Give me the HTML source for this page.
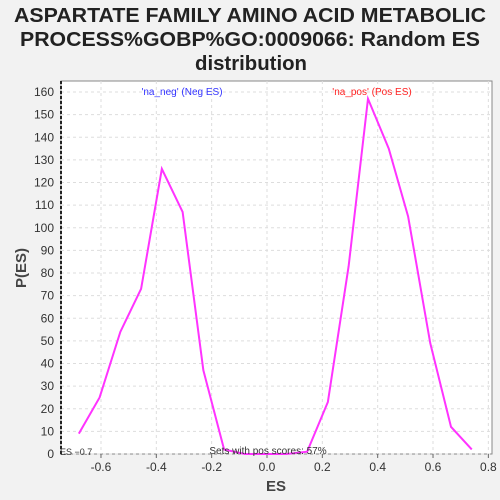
<!DOCTYPE html>
<html><head><meta charset="utf-8"><style>
body{margin:0;background:#f2f2f2;font-family:"Liberation Sans","DejaVu Sans",sans-serif;}
svg{display:block}
</style></head><body>
<svg id="c" width="500" height="500">
<rect x="0" y="0" width="500" height="500" fill="#f2f2f2"/>
<text x="250" y="22" text-anchor="middle" font-size="20" font-weight="bold" fill="#222" textLength="472" lengthAdjust="spacingAndGlyphs">ASPARTATE FAMILY AMINO ACID METABOLIC</text>
<text x="250" y="46" text-anchor="middle" font-size="20" font-weight="bold" fill="#222" textLength="460" lengthAdjust="spacingAndGlyphs">PROCESS%GOBP%GO:0009066: Random ES</text>
<text x="251" y="70" text-anchor="middle" font-size="20" font-weight="bold" fill="#222" textLength="112" lengthAdjust="spacingAndGlyphs">distribution</text>
<rect x="61" y="81" width="431" height="373" fill="#fff" stroke="#888"/>
<g id="grid"></g>
<g id="axes"></g>
<line x1="61" y1="81" x2="61" y2="454" stroke="#222" stroke-width="2" stroke-dasharray="3,2"/>
<polyline id="line" fill="none" stroke="#ff33ff" stroke-width="2"/>
<text x="182" y="95" text-anchor="middle" font-size="10" fill="#3333ff">'na_neg' (Neg ES)</text>
<text x="372" y="95" text-anchor="middle" font-size="10" fill="#ff2222">'na_pos' (Pos ES)</text>
<text x="60" y="455" font-size="9" fill="#333">ES −0.7</text>
<text x="268" y="454" text-anchor="middle" font-size="10" fill="#333">Sets with pos scores: 57%</text>
<text x="276" y="491" text-anchor="middle" font-size="15" font-weight="bold" fill="#444">ES</text>
<text x="26" y="268" text-anchor="middle" font-size="15" font-weight="bold" fill="#444" transform="rotate(-90 26 268)">P(ES)</text>
</svg>
<script>
const esValues=[-0.68,-0.605,-0.53,-0.455,-0.38,-0.305,-0.23,-0.155,-0.08,0,0.07,0.145,0.22,0.295,0.365,0.44,0.51,0.59,0.665,0.74];
const pValues=[9,25,54,73,126,107,37,2,0,0,0,1,23,83,157,135,105,49,12,2];
const xTicks=[-0.6,-0.4,-0.2,0.0,0.2,0.4,0.6,0.8];
const xTickLabels=["-0.6","-0.4","-0.2","0.0","0.2","0.4","0.6","0.8"];
const yTicks=[0,10,20,30,40,50,60,70,80,90,100,110,120,130,140,150,160];
const NS="http://www.w3.org/2000/svg";
function xs(v){return 267+v*276.7;}
function ys(v){return 454-v*2.2625;}
const grid=document.getElementById('grid'),axes=document.getElementById('axes');
function mk(t,a,p){const e=document.createElementNS(NS,t);for(const k in a)e.setAttribute(k,a[k]);p.appendChild(e);return e;}
xTicks.forEach((t,i)=>{
 const g=mk('line',{x1:xs(t),x2:xs(t),y1:81,y2:454,stroke:'#ddd','stroke-dasharray':'3,3'},grid);
 
 
 const tk=mk('line',{x1:xs(t),x2:xs(t),y1:454,y2:458,stroke:'#666'},axes);
 
 
 const l=mk('text',{x:xs(t),y:471,'text-anchor':'middle','font-size':12,fill:'#333'},axes);
 l.textContent=xTickLabels[i];
 
 
});
yTicks.forEach(t=>{
 const g=mk('line',{x1:61,x2:492,y1:ys(t),y2:ys(t),stroke:'#ddd','stroke-dasharray':'3,3'},grid);
 
 
 const l=mk('text',{x:54,y:ys(t)+4,'text-anchor':'end','font-size':12,fill:'#333'},axes);
 l.textContent=t;
 
 
});
document.getElementById('line').setAttribute('points',esValues.map((v,i)=>xs(v)+','+ys(pValues[i])).join(' '));
</script>
</body></html>
